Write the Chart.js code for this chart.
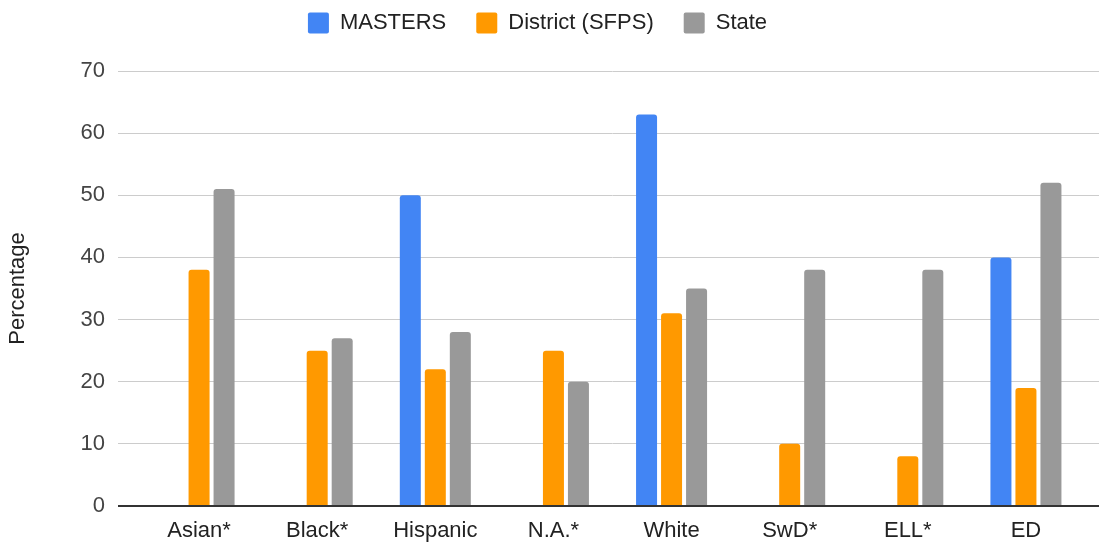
<!DOCTYPE html>
<html><head><meta charset="utf-8">
<script src="https://cdn.jsdelivr.net/npm/chart.js@4.4.1/dist/chart.umd.min.js"></script>
<style>html,body{margin:0;padding:0;background:#fff;overflow:hidden}#wrap{width:1099px;height:543px;position:relative}</style>
</head><body><div id="wrap"><canvas id="c"></canvas></div>
<script>
const categories = ['Asian*', 'Black*', 'Hispanic', 'N.A.*', 'White', 'SwD*', 'ELL*', 'ED'];
const seriesNames = ['MASTERS', 'District (SFPS)', 'State'];
const masters = [null, null, 50, null, 63, null, null, 40];
const district = [38, 25, 22, 25, 31, 10, 8, 19];
const state = [51, 27, 28, 20, 35, 38, 38, 52];
const yTicks = [0, 10, 20, 30, 40, 50, 60, 70];
const yTitle = 'Percentage';

const colors = ['#4285f4', '#ff9900', '#999999'];
const FONT = '"Liberation Sans", Arial, sans-serif';
const gridCol = c => (c.tick && c.tick.value === 0) ? '#333333' : '#cccccc';
const gridW = c => (c.tick && c.tick.value === 0) ? 2 : 1;

const legendShift = {
  id: 'legendShift',
  afterLayout(chart) {
    const l = chart.legend;
    if (l) { l.top -= 27; l.bottom -= 27; l.left -= 12; l.right -= 12; }
  }
};

const mk = (label, data, color) => ({
  label, data, backgroundColor: color, borderWidth: 0,
  borderRadius: 3, borderSkipped: 'start',
  barPercentage: 0.84, categoryPercentage: 0.635
});

new Chart(document.getElementById('c'), {
  type: 'bar',
  data: {
    labels: categories,
    datasets: [
      mk(seriesNames[0], masters, colors[0]),
      mk(seriesNames[1], district, colors[1]),
      mk(seriesNames[2], state, colors[2])
    ]
  },
  options: {
    responsive: true, maintainAspectRatio: false, animation: false,
    layout: { padding: { top: 9, bottom: 1, left: 0, right: 0 } },
    plugins: {
      tooltip: { enabled: false },
      legend: {
        position: 'top',
        labels: {
          boxWidth: 21, boxHeight: 21, padding: 30, color: '#222',
          useBorderRadius: true, borderRadius: 2,
          font: { family: FONT, size: 22 }
        }
      }
    },
    scales: {
      x: {
        grid: { display: false, drawTicks: false },
        border: { display: false },
        ticks: { padding: 12, color: '#222', maxRotation: 0, autoSkip: false, font: { family: FONT, size: 22 } },
        afterFit: s => { s.height = 36; }
      },
      y: {
        min: yTicks[0], max: yTicks[yTicks.length - 1],
        afterBuildTicks: s => { s.ticks = yTicks.map(v => ({ value: v })); },
        ticks: { padding: 13, color: '#444', font: { family: FONT, size: 22 } },
        grid: { color: gridCol, tickColor: gridCol, lineWidth: gridW, tickLength: 22 },
        border: { display: false },
        title: { display: true, text: yTitle, color: '#222', font: { family: FONT, size: 22 }, padding: { top: 5, bottom: 0 } },
        afterFit: s => { s.width = 140; }
      },
      y2: {
        position: 'right',
        min: yTicks[0], max: yTicks[yTicks.length - 1],
        afterBuildTicks: s => { s.ticks = yTicks.map(v => ({ value: v })); },
        ticks: { display: false },
        grid: { drawOnChartArea: false, color: gridCol, tickColor: gridCol, lineWidth: gridW, tickLength: 14 },
        border: { display: false },
        afterFit: s => { s.width = 14; }
      }
    }
  },
  plugins: [legendShift]
});
</script></body></html>
